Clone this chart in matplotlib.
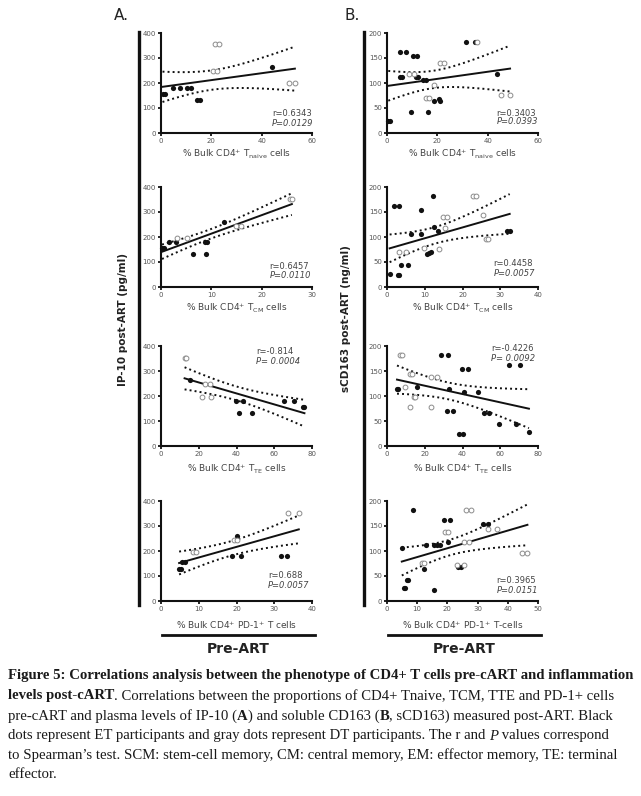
import numpy as np
import matplotlib
matplotlib.use('Agg')
import matplotlib.pyplot as plt

plt.rcParams['mathtext.fontset'] = 'dejavusans'

W, H = 641, 796  # figure size in pixels

### data ###
# A: IP-10 (pg/ml) vs pre-ART phenotype; B: sCD163 (ng/ml)
a_naive_black_x = [0.6, 1.4, 4.9, 7.5, 10.4, 11.8, 14.5, 15.3, 44.0]
a_naive_black_y = [158, 158, 181, 181, 181, 181, 131, 131, 266]
a_naive_gray_x = [20.8, 22.1, 21.3, 23.1, 51.0, 53.2]
a_naive_gray_y = [248, 248, 357, 357, 199, 199]

a_cm_black_x = [0.2, 0.5, 1.5, 2.9, 6.3, 8.7, 9.1, 8.9, 12.5]
a_cm_black_y = [158, 158, 179, 179, 131, 179, 179, 131, 261]
a_cm_gray_x = [3.1, 5.1, 14.9, 15.9, 25.7, 26.0]
a_cm_gray_y = [195, 195, 244, 244, 352, 352]

a_te_black_x = [15.3, 39.6, 43.2, 41.2, 48.3, 65.0, 70.5, 75.0, 76.0]
a_te_black_y = [264, 181, 181, 132, 132, 181, 181, 158, 158]
a_te_gray_x = [12.5, 13.2, 21.5, 26.3, 23.3, 25.9]
a_te_gray_y = [352, 352, 198, 198, 247, 247]

a_pd1_black_x = [4.8, 5.4, 5.6, 6.4, 18.8, 21.1, 20.2, 31.9, 33.4]
a_pd1_black_y = [129, 129, 156, 156, 181, 181, 261, 181, 181]
a_pd1_gray_x = [8.5, 9.4, 19.3, 20.0, 33.7, 36.5]
a_pd1_gray_y = [197, 197, 244, 244, 352, 352]

b_naive_black_x = [0.5, 1.3, 5.0, 7.6, 5.0, 5.9, 10.5, 11.9, 11.5, 12.5, 14.5, 15.4,
                   9.5, 16.1, 18.5, 20.5, 21.0, 31.3, 34.9, 43.9]
b_naive_black_y = [24, 24, 163, 163, 113, 113, 155, 155, 113, 113, 107, 107,
                   43, 43, 64, 68, 65, 183, 183, 118]
b_naive_gray_x = [35.6, 8.6, 10.8, 21.1, 22.7, 18.5, 15.6, 16.6, 45.4, 48.9]
b_naive_gray_y = [183, 118, 118, 141, 141, 96, 70, 70, 76, 76]

b_cm_black_x = [0.7, 1.8, 3.1, 2.9, 3.3, 3.7, 5.5, 6.4, 9.0, 9.0, 12.1, 10.6, 11.2,
                11.6, 12.5, 13.6, 31.9, 32.5]
b_cm_black_y = [27, 163, 163, 24, 24, 45, 45, 107, 107, 155, 183, 66, 68,
                70, 120, 113, 113, 113]
b_cm_gray_x = [3.3, 5.0, 9.8, 13.7, 14.9, 16.0, 15.4, 22.9, 23.7, 25.5, 26.2, 26.8]
b_cm_gray_y = [71, 71, 78, 77, 140, 140, 119, 183, 183, 145, 97, 97]

b_te_black_x = [5.3, 5.8, 15.8, 28.7, 32.5, 33.1, 31.6, 34.8, 38.3, 40.4, 39.6, 43.1,
                41.0, 48.0, 51.3, 54.2, 59.4, 64.7, 70.3, 68.2, 75.2]
b_te_black_y = [115, 115, 119, 183, 183, 115, 70, 70, 24, 24, 155, 155,
                108, 108, 66, 66, 45, 163, 163, 45, 28]
b_te_gray_x = [7.0, 7.8, 12.3, 13.2, 9.7, 14.1, 14.9, 12.0, 23.2, 23.2, 26.4]
b_te_gray_y = [182, 182, 144, 144, 119, 98, 98, 78, 78, 139, 139]

b_pd1_black_x = [4.9, 5.5, 6.0, 6.6, 7.1, 8.6, 12.9, 12.4, 15.6, 15.6, 16.7, 17.6,
                 18.9, 20.9, 20.3, 31.9, 33.3, 23.6, 24.5]
b_pd1_black_y = [107, 26, 26, 43, 43, 183, 113, 64, 22, 113, 113, 113,
                 163, 163, 119, 155, 155, 69, 69]
b_pd1_gray_x = [11.6, 12.3, 19.3, 20.2, 23.1, 25.6, 25.5, 27.0, 26.1, 27.7, 33.5, 36.5,
                44.8, 46.5]
b_pd1_gray_y = [77, 77, 139, 139, 73, 73, 119, 119, 183, 183, 144, 144, 97, 97]

x_maxes_a = [60, 30, 80, 40]
x_maxes_b = [60, 40, 80, 50]
x_steps_a = [20, 10, 20, 10]
x_steps_b = [20, 10, 20, 10]

x_labels_a = [r'% Bulk CD4$^{+}$ T$_{\mathregular{naive}}$ cells',
              r'% Bulk CD4$^{+}$ T$_{\mathregular{CM}}$ cells',
              r'% Bulk CD4$^{+}$ T$_{\mathregular{TE}}$ cells',
              r'% Bulk CD4$^{+}$ PD-1$^{+}$ T cells']
x_labels_b = [r'% Bulk CD4$^{+}$ T$_{\mathregular{naive}}$ cells',
              r'% Bulk CD4$^{+}$ T$_{\mathregular{CM}}$ cells',
              r'% Bulk CD4$^{+}$ T$_{\mathregular{TE}}$ cells',
              r'% Bulk CD4$^{+}$ PD-1$^{+}$ T-cells']

r_texts_a = ['r=0.6343', 'r=0.6457', 'r=-0.814', 'r=0.688']
p_texts_a = ['P=0.0129', 'P=0.0110', 'P= 0.0004', 'P=0.0057']
r_texts_b = ['r=0.3403', 'r=0.4458', 'r=-0.4226', 'r=0.3965']
p_texts_b = ['P=0.0393', 'P=0.0057', 'P= 0.0092', 'P=0.0151']

### layout (pixels) ###
col_left = [161, 387]
row_top = [33, 187, 346, 501]
ax_w, ax_h = 151, 100
# position of the r / P text in axes fraction (x, y of r; y of P)
stat_pos_a = [(0.735, 0.195, 0.095), (0.72, 0.205, 0.115), (0.63, 0.945, 0.845), (0.71, 0.255, 0.155)]
stat_pos_b = [(0.725, 0.19, 0.11), (0.705, 0.23, 0.14), (0.69, 0.975, 0.88), (0.725, 0.205, 0.105)]


def px_rect(x, y, w, h):
    return [x / W, 1 - (y + h) / H, w / W, h / H]


def t_crit(df):
    # two-sided 95% Student t quantile (Cornish-Fisher expansion)
    z = 1.959964
    return z + (z**3 + z) / (4 * df) + (5 * z**5 + 16 * z**3 + 3 * z) / (96 * df**2)


def panel(ax, bx, by, gx, gy, xmax, xstep, ymax, ystep, r_txt, p_txt, pos):
    x = np.array(bx + gx, dtype=float)
    y = np.array(by + gy, dtype=float)
    # linear regression with 95% confidence band
    slope, icpt = np.polyfit(x, y, 1)
    n = len(x)
    resid = y - (icpt + slope * x)
    s = np.sqrt(np.sum(resid**2) / (n - 2))
    xm = x.mean()
    sxx = np.sum((x - xm)**2)
    xs = np.linspace(x.min(), x.max(), 100)
    ys = icpt + slope * xs
    half = t_crit(n - 2) * s * np.sqrt(1 / n + (xs - xm)**2 / sxx)
    ax.plot(xs, ys, color='#111111', lw=1.4, zorder=3)
    ax.plot(xs, ys + half, color='#111111', lw=1.4, ls=(0, (1, 1.6)), zorder=3)
    ax.plot(xs, ys - half, color='#111111', lw=1.4, ls=(0, (1, 1.6)), zorder=3)

    ax.scatter(bx, by, s=14, color='#111111', zorder=4, clip_on=False, linewidths=0)
    ax.scatter(gx, gy, s=12, facecolor='white', edgecolor='#8c8c8c', linewidths=0.7,
               zorder=4, clip_on=False)

    ax.set_xlim(0, xmax)
    ax.set_ylim(0, ymax)
    ax.set_xticks(np.arange(0, xmax + 1, xstep))
    ax.set_yticks(np.arange(0, ymax + 1, ystep))
    for side in ['top', 'right']:
        ax.spines[side].set_visible(False)
    for side in ['left', 'bottom']:
        ax.spines[side].set_linewidth(1.5)
        ax.spines[side].set_color('#111111')
    ax.tick_params(width=1.2, length=2.5, labelsize=5, labelcolor='#555555', pad=1)
    ax.patch.set_alpha(0)

    ax.text(pos[0], pos[1], r_txt, transform=ax.transAxes, fontsize=6, color='#444444',
            va='center', ha='left')
    ax.text(pos[0], pos[2], p_txt, transform=ax.transAxes, fontsize=6, color='#444444',
            va='center', ha='left', style='italic')


fig = plt.figure(figsize=(W / 100, H / 100), dpi=100)

panels_a = [(a_naive_black_x, a_naive_black_y, a_naive_gray_x, a_naive_gray_y),
            (a_cm_black_x, a_cm_black_y, a_cm_gray_x, a_cm_gray_y),
            (a_te_black_x, a_te_black_y, a_te_gray_x, a_te_gray_y),
            (a_pd1_black_x, a_pd1_black_y, a_pd1_gray_x, a_pd1_gray_y)]
panels_b = [(b_naive_black_x, b_naive_black_y, b_naive_gray_x, b_naive_gray_y),
            (b_cm_black_x, b_cm_black_y, b_cm_gray_x, b_cm_gray_y),
            (b_te_black_x, b_te_black_y, b_te_gray_x, b_te_gray_y),
            (b_pd1_black_x, b_pd1_black_y, b_pd1_gray_x, b_pd1_gray_y)]

xlabel_y = [154, 308, 469, 625]

for col, (pans, xmaxes, xsteps, xlabels, rt, pt, pos, ymax, ystep) in enumerate([
        (panels_a, x_maxes_a, x_steps_a, x_labels_a, r_texts_a, p_texts_a, stat_pos_a, 400, 100),
        (panels_b, x_maxes_b, x_steps_b, x_labels_b, r_texts_b, p_texts_b, stat_pos_b, 200, 50)]):
    for row in range(4):
        ax = fig.add_axes(px_rect(col_left[col], row_top[row], ax_w, ax_h))
        bx, by, gx, gy = pans[row]
        panel(ax, bx, by, gx, gy, xmaxes[row], xsteps[row], ymax, ystep, rt[row], pt[row], pos[row])
        fig.text((col_left[col] + ax_w / 2) / W, 1 - xlabel_y[row] / H, xlabels[row],
                 fontsize=6.5, color='#444444', ha='center', va='center')

# big vertical bars, panel letters, y labels
bar_x = [139, 364]
letter_x = [114, 344]
ylab_x = [123, 346]
ylabels = ['IP-10 post-ART (pg/ml)', 'sCD163 post-ART (ng/ml)']
letters = ['A.', 'B.']
for i in range(2):
    fig.add_artist(plt.Line2D([bar_x[i] / W] * 2, [1 - 32 / H, 1 - 605 / H], color='#111111', lw=2.4))
    fig.text(letter_x[i] / W, 1 - 15 / H, letters[i], fontsize=11, color='#222222', ha='left', va='center')
    fig.text(ylab_x[i] / W, 1 - 319 / H, ylabels[i], fontsize=7.5, fontweight='bold', color='#222222',
             rotation=90, ha='center', va='center')
    # Pre-ART bracket
    fig.add_artist(plt.Line2D([(col_left[i] + 1) / W, (col_left[i] + 154) / W], [1 - 635 / H] * 2,
                              color='#111111', lw=2.0))
    fig.text((col_left[i] + 77) / W, 1 - 649 / H, 'Pre-ART', fontsize=10, fontweight='bold',
             color='#222222', ha='center', va='center')

### caption ###
cap_fs = 10.65
cap_lines = [
    [('Figure 5: Correlations analysis between the phenotype of CD4+ T cells pre-cART and inflammation', 'bold', 'normal')],
    [('levels post-cART', 'bold', 'normal'),
     ('. Correlations between the proportions of CD4+ Tnaive, TCM, TTE and PD-1+ cells', 'normal', 'normal')],
    [('pre-cART and plasma levels of IP-10 (', 'normal', 'normal'), ('A', 'bold', 'normal'),
     (') and soluble CD163 (', 'normal', 'normal'), ('B', 'bold', 'normal'),
     (', sCD163) measured post-ART. Black', 'normal', 'normal')],
    [('dots represent ET participants and gray dots represent DT participants. The r and ', 'normal', 'normal'),
     ('P', 'normal', 'italic'), (' values correspond', 'normal', 'normal')],
    [("to Spearman\u2019s test. SCM: stem-cell memory, CM: central memory, EM: effector memory, TE: terminal", 'normal', 'normal')],
    [('effector.', 'normal', 'normal')],
]
cap_y = [676, 696, 716, 736, 755, 775]

renderer = fig.canvas.get_renderer()
for line, y in zip(cap_lines, cap_y):
    x = 8
    for txt, weight, style in line:
        t = fig.text(x / W, 1 - y / H, txt, fontsize=cap_fs, fontweight=weight, style=style,
                     family='Liberation Serif', color='#1a1a1a', ha='left', va='center')
        x += t.get_window_extent(renderer).width

fig.savefig('out.png', dpi=100)
